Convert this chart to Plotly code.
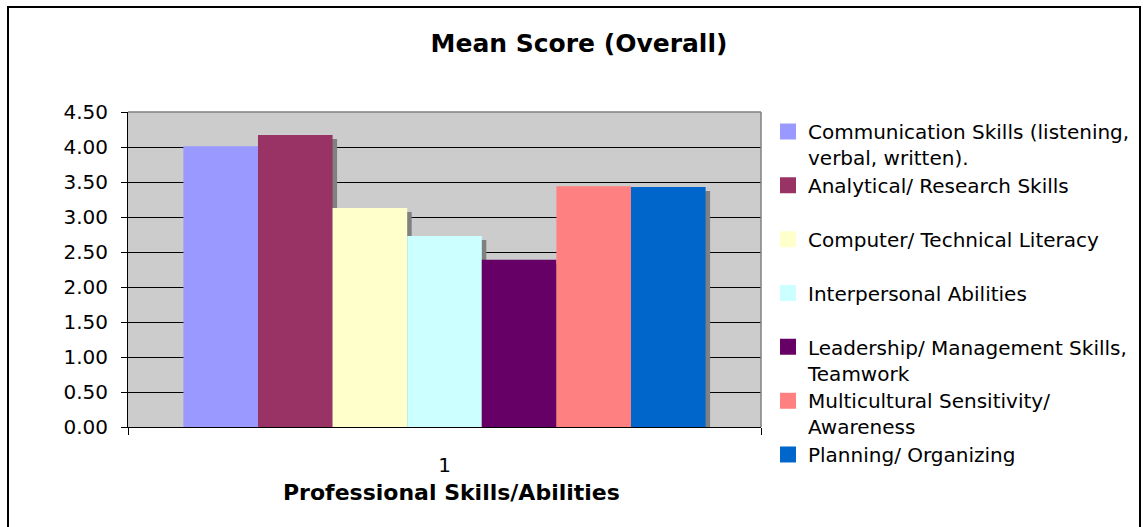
import plotly.graph_objects as go

# ---- data ----
categories = ["1"]
series_names = [
    "Communication Skills (listening,<br>verbal, written).",
    "Analytical/ Research Skills",
    "Computer/ Technical Literacy",
    "Interpersonal Abilities",
    "Leadership/ Management Skills,<br>Teamwork",
    "Multicultural Sensitivity/<br>Awareness",
    "Planning/ Organizing",
]
series_values = [4.01, 4.17, 3.13, 2.73, 2.39, 3.44, 3.43]
series_colors = ["#9999FF", "#993366", "#FFFFCC", "#CCFFFF", "#660066", "#FF8080", "#0066CC"]
y_ticks = [0, 0.5, 1, 1.5, 2, 2.5, 3, 3.5, 4, 4.5]

# ---- style ----
FONT = "DejaVu Sans"
W, H = 1144, 527
L, R, T, B = 128, 383, 112, 100
PW = W - L - R
PH = H - T - B
GROUP_WIDTH = 0.825
n = len(series_values)
bw = GROUP_WIDTH / n
SHADOW_DX = 4.5 / PW          # x-units (range width 1)
SHADOW_DY = 4 / (PH / 4.5)    # y-units
LEG_LEFT_PX = 768
LEG_TOP_PX = 112
LEG_STEP_PX = 53.83

def px_x(p):
    return (p - L) / PW

def px_y(p):
    return (H - B - p) / PH

fig = go.Figure()

# shadows first (beneath)
for i, v in enumerate(series_values):
    fig.add_trace(go.Bar(
        x=[1], y=[v - SHADOW_DY], base=0, width=bw,
        offset=-GROUP_WIDTH / 2 + i * bw + SHADOW_DX,
        marker=dict(color="#808080", line=dict(width=0)),
        showlegend=False, hoverinfo="skip",
    ))

# bars
for i, (name, v, c) in enumerate(zip(series_names, series_values, series_colors)):
    fig.add_trace(go.Bar(
        x=[1], y=[v], width=bw,
        offset=-GROUP_WIDTH / 2 + i * bw,
        marker=dict(color=c, line=dict(width=0)),
        name=name, showlegend=False,
    ))

# legend proxies (16px squares), one legend box per entry for exact spacing
legend_layouts = {}
for i, (name, c) in enumerate(zip(series_names, series_colors)):
    lid = "legend" if i == 0 else f"legend{i + 1}"
    fig.add_trace(go.Scatter(
        x=[None], y=[None], mode="markers", name=name, legend=lid,
        marker=dict(symbol="square", size=16, color=c, line=dict(width=0)),
    ))
    legend_layouts[lid] = dict(
        x=px_x(LEG_LEFT_PX), xanchor="left",
        y=px_y(LEG_TOP_PX + i * LEG_STEP_PX), yanchor="top",
        font=dict(family=FONT, size=20, color="black"),
        valign="top", bgcolor="rgba(0,0,0,0)", borderwidth=0,
    )

fig.update_layout(
    width=W, height=H,
    margin=dict(l=L, r=R, t=T, b=B, autoexpand=False),
    paper_bgcolor="white",
    plot_bgcolor="#CCCCCC",
    barmode="overlay",
    font=dict(family=FONT, color="black", size=20),
    title=dict(
        text="<b>Mean Score (Overall)</b>",
        x=px_x(579), xref="paper", xanchor="center",
        y=1 - 43 / H, yref="container", yanchor="middle",
        font=dict(family=FONT, size=25, color="black"),
    ),
    showlegend=True,
    **legend_layouts,
)

fig.update_xaxes(
    range=[0.5, 1.5], tickmode="array", tickvals=[1], ticktext=categories,
    ticks="", showgrid=False, zeroline=False,
    showline=True, linecolor="black", linewidth=1,
    ticklabelstandoff=20, tickfont=dict(size=20),
    minor=dict(tickmode="array", tickvals=[0.5, 1.5], ticks="outside",
               ticklen=7, tickcolor="black", showgrid=False),
)
fig.update_yaxes(
    range=[0, 4.5], tickmode="array", tickvals=y_ticks, tickformat=".2f",
    ticks="outside", ticklen=6, tickcolor="black",
    showgrid=True, gridcolor="black", gridwidth=1, zeroline=False,
    showline=True, linecolor="black", linewidth=1,
    ticklabelstandoff=9, tickfont=dict(size=20),
)

# gray plot-area border on top and right
fig.add_shape(type="line", xref="x domain", yref="y domain", x0=0, x1=1, y0=1, y1=1,
              line=dict(color="#808080", width=1.5), layer="above")
fig.add_shape(type="line", xref="x domain", yref="y domain", x0=1, x1=1, y0=0, y1=1,
              line=dict(color="#808080", width=1.5), layer="above")

# outer chart border
fig.add_shape(type="rect", xref="paper", yref="paper",
              x0=px_x(8), x1=px_x(1140), y0=px_y(545), y1=px_y(7),
              line=dict(color="black", width=2), fillcolor="rgba(0,0,0,0)", layer="above")

# x-axis title
fig.add_annotation(
    text="<b>Professional Skills/Abilities</b>", xref="paper", yref="paper",
    x=px_x(451), y=px_y(492), xanchor="center", yanchor="middle", showarrow=False,
    font=dict(family=FONT, size=22, color="black"),
)

fig.write_html("out.html", config={"displayModeBar": False},
               post_script="document.body.style.margin='0px';")
